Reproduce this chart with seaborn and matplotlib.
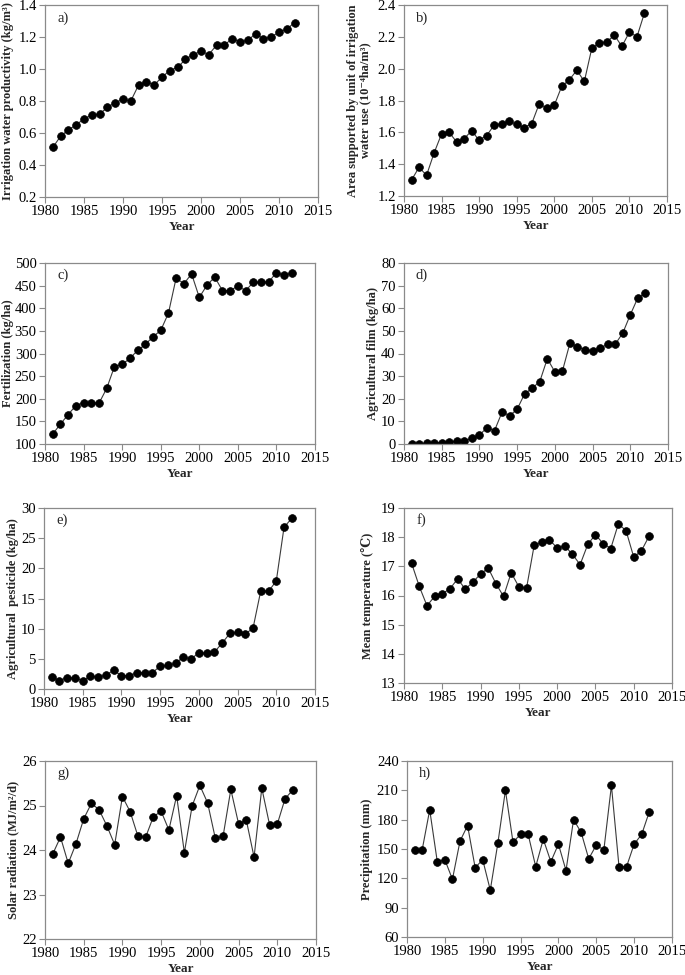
import numpy as np
import pandas as pd
import matplotlib
matplotlib.use("Agg")
import matplotlib.pyplot as plt
import seaborn as sns

years = list(range(1981, 2013))

water_productivity = [0.51, 0.58, 0.62, 0.65, 0.69, 0.71, 0.72, 0.76, 0.79, 0.81, 0.80, 0.90,
                      0.92, 0.90, 0.95, 0.99, 1.01, 1.06, 1.09, 1.11, 1.09, 1.15, 1.15, 1.19,
                      1.17, 1.18, 1.22, 1.19, 1.20, 1.23, 1.25, 1.29]
area_supported = [1.30, 1.38, 1.33, 1.47, 1.59, 1.60, 1.54, 1.56, 1.61, 1.55, 1.58, 1.645,
                  1.655, 1.67, 1.65, 1.63, 1.655, 1.78, 1.75, 1.77, 1.89, 1.93, 1.99, 1.92,
                  2.13, 2.16, 2.17, 2.21, 2.14, 2.23, 2.20, 2.35]
fertilization = [122, 144, 165, 185, 191, 191, 190, 223, 271, 276, 289, 307, 320, 337, 351, 389,
                 467, 454, 476, 424, 451, 469, 439, 439, 449, 439, 457, 457, 458, 479, 473, 478]
ag_film = [0.0, 0.1, 0.3, 0.6, 0.6, 0.9, 1.3, 1.3, 2.6, 4.0, 7.2, 5.9, 14.1, 12.5, 15.4, 22.2,
           24.7, 27.6, 37.7, 31.9, 32.2, 44.6, 43.0, 41.6, 41.3, 42.3, 44.1, 44.1, 49.0, 57.1,
           64.6, 66.7]
pesticide = [2.0, 1.4, 1.9, 1.8, 1.4, 2.1, 2.0, 2.3, 3.1, 2.2, 2.2, 2.7, 2.7, 2.7, 3.8, 3.9,
             4.3, 5.3, 5.0, 6.0, 5.9, 6.1, 7.6, 9.2, 9.4, 9.1, 10.1, 16.3, 16.2, 17.9, 26.8, 28.3]
temperature = [17.10, 16.31, 15.65, 15.97, 16.06, 16.23, 16.57, 16.22, 16.46, 16.74, 16.94,
               16.41, 15.97, 16.78, 16.30, 16.25, 17.72, 17.82, 17.91, 17.63, 17.70, 17.41,
               17.06, 17.75, 18.09, 17.78, 17.61, 18.46, 18.22, 17.32, 17.53, 18.03]
radiation = [23.91, 24.29, 23.70, 24.14, 24.70, 25.05, 24.90, 24.54, 24.12, 25.20, 24.86, 24.31,
             24.29, 24.75, 24.87, 24.45, 25.22, 23.94, 24.99, 25.45, 25.06, 24.26, 24.31, 25.36,
             24.59, 24.67, 23.84, 25.39, 24.57, 24.58, 25.15, 25.35]
precipitation = [149, 149, 190, 137, 139, 119, 158, 174, 131, 139, 108, 156, 210, 157, 165, 165,
                 132, 160, 137, 155, 128, 180, 167, 140, 154, 149, 215, 132, 132, 155, 165, 188]

panel_tags = ["a)", "b)", "c)", "d)", "e)", "f)", "g)", "h)"]
y_labels = [
    "Irrigation water productivity (kg/m\u00b3)",
    "Area supported by unit of irrigation\nwater use (10\u207b\u2074ha/m\u00b3)",
    "Fertilization (kg/ha)",
    "Agricultural film (kg/ha)",
    "Agricultural  pesticide (kg/ha)",
    "Mean temperature (\u2103)",
    "Solar radiation (MJ/m\u00b2/d)",
    "Precipitation (mm)",
]
series = [water_productivity, area_supported, fertilization, ag_film,
          pesticide, temperature, radiation, precipitation]
y_ranges = [(0.2, 1.4, 0.2), (1.2, 2.4, 0.2), (100, 500, 50), (0, 80, 10),
            (0, 30, 5), (13, 19, 1), (22, 26, 1), (60, 240, 30)]
x_ticks = [1980, 1985, 1990, 1995, 2000, 2005, 2010, 2015]

sns.set_theme(style="ticks")
plt.rcParams["font.family"] = ["Liberation Serif", "DejaVu Serif"]
plt.rcParams["mathtext.fontset"] = "stix"

W, H = 685, 975
fig = plt.figure(figsize=(W / 100, H / 100), dpi=100)

# pixel boxes: left, right, top, bottom
boxes = [(45, 318, 5, 197), (404, 667, 5, 196),
         (45, 315, 263, 444), (404, 668, 263, 444),
         (44, 315, 508, 689), (404, 672, 508, 683),
         (45, 316, 761, 939), (407, 672, 761, 937)]
# pixel x of the right edge of each rotated y label
label_right_px = [14, 371, 14, 379, 19, 374, 19, 373]

spine_col = "#8a8a8a"
for i in range(8):
    l, r, t, b = boxes[i]
    ax = fig.add_axes([l / W, 1 - b / H, (r - l) / W, (b - t) / H])
    df = pd.DataFrame({"Year": years, "value": series[i]})
    sns.lineplot(data=df, x="Year", y="value", ax=ax, color="#3a3a3a", linewidth=0.8,
                 marker="o", markersize=5.6, markerfacecolor="black",
                 markeredgecolor="black", markeredgewidth=0.5)
    lo, hi, step = y_ranges[i]
    ax.set_xlim(1980, 2015)
    ax.set_ylim(lo, hi)
    ax.set_xticks(x_ticks)
    yt = np.arange(lo, hi + step / 2, step)
    ax.set_yticks(yt)
    if step < 1:
        ax.set_yticklabels([f"{v:.1f}" for v in yt])
    else:
        ax.set_yticklabels([f"{int(round(v))}" for v in yt])
    for s in ax.spines.values():
        s.set_visible(True)
        s.set_color(spine_col)
        s.set_linewidth(0.9)
    ax.tick_params(axis="both", direction="out", length=4, width=0.8, color=spine_col,
                   labelsize=10.5, labelcolor="black", pad=2, top=False, right=False)
    ax.set_xlabel("Year", fontsize=9.5, fontweight="bold", labelpad=2)
    ax.set_ylabel(y_labels[i], fontsize=9, fontweight="bold", linespacing=1.0)
    ax.yaxis.set_label_coords((label_right_px[i] - l) / (r - l), 0.5)
    ax.text(0.045, 0.93, panel_tags[i], transform=ax.transAxes, ha="left", va="center",
            fontsize=10.5)

fig.savefig("out.png", dpi=100)
